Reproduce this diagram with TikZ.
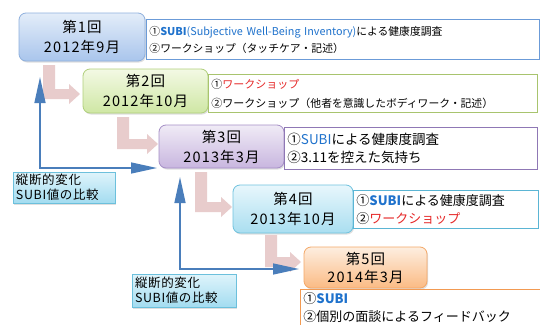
\documentclass[tikz,border=0pt]{standalone}
\usepackage{fontspec}
\setmainfont{Noto Sans CJK JP}
\usetikzlibrary{arrows.meta,shadows}
\definecolor{b1t}{HTML}{E3EDF9}\definecolor{b1b}{HTML}{A9C5EC}\definecolor{b1d}{HTML}{8FB0DD}\definecolor{d1c}{HTML}{6B9BD8}
\definecolor{b2t}{HTML}{F3F9E4}\definecolor{b2b}{HTML}{CFE7A4}\definecolor{b2d}{HTML}{B0CF7C}\definecolor{d2c}{HTML}{A8C46E}
\definecolor{b3t}{HTML}{F0EBF6}\definecolor{b3b}{HTML}{C8B6DF}\definecolor{b3d}{HTML}{A58FC6}\definecolor{d3c}{HTML}{8F78B5}
\definecolor{b4t}{HTML}{E8F7FC}\definecolor{b4b}{HTML}{A9DEF0}\definecolor{b4d}{HTML}{6FC2DE}\definecolor{d4c}{HTML}{5BB5D4}
\definecolor{b5t}{HTML}{FDEEE0}\definecolor{b5b}{HTML}{FBBB84}\definecolor{b5d}{HTML}{F4A868}\definecolor{d5c}{HTML}{F29A52}
\definecolor{labt}{HTML}{DFF4FB}\definecolor{labb}{HTML}{A3DCF0}\definecolor{labd}{HTML}{6CC0DC}
\definecolor{pinkc}{HTML}{E8CCCC}
\definecolor{arrblue}{HTML}{4A7EBB}
\definecolor{subiblue}{HTML}{1F72CC}
\definecolor{wsred}{HTML}{E62828}
\newcommand\pinkarr[4]{%
  \fill[pinkc] (#1,#2) -- (#1+12,#2) -- (#1+12,#3-5) -- (#4-11,#3-5) -- (#4-11,#3-10)
    -- (#4,#3) -- (#4-11,#3+10) -- (#4-11,#3+5) -- (#1,#3+5) -- cycle;}
\newcommand\subi[1]{\textcolor{subiblue}{#1}}
\newcommand\wsr[1]{\textcolor{wsred}{#1}}
\tikzset{
  base/.style={rounded corners=7pt, line width=0.8pt, align=center, inner sep=0pt,
    font=\fontsize{14.5}{20}\selectfont\addfontfeatures{LetterSpace=8},
    drop shadow={opacity=0.25, shadow xshift=1pt, shadow yshift=-1.5pt}},
  bx1/.style={base, draw=b1d, top color=b1t, bottom color=b1b},
  bx2/.style={base, draw=b2d, top color=b2t, bottom color=b2b},
  bx3/.style={base, draw=b3d, top color=b3t, bottom color=b3b},
  bx4/.style={base, draw=b4d, top color=b4t, bottom color=b4b},
  bx5/.style={base, draw=b5d, top color=b5t, bottom color=b5b, font=\fontsize{14.5}{18}\selectfont\addfontfeatures{LetterSpace=8}},
  desc/.style={draw=#1, line width=0.9pt, fill=white, anchor=north west, align=left,
    inner xsep=3pt, inner ysep=0pt},
  lab/.style={draw=labd, line width=0.8pt, top color=labt, bottom color=labb, align=left,
    inner xsep=3pt, inner ysep=0pt, font=\fontsize{12.5}{15}\selectfont\addfontfeatures{LetterSpace=5},
    drop shadow={opacity=0.25, shadow xshift=1pt, shadow yshift=-1.5pt}},
  barrow/.style={draw=arrblue, line width=1.4pt, -{Triangle[length=26pt,width=11pt]}}
}
\begin{document}
\begin{tikzpicture}[x=1pt,y=-1pt]
\useasboundingbox (0,0) rectangle (540,324);
\fill[white] (0,0) rectangle (540,324);

% pink L arrows
\pinkarr{43}{65}{94}{80}
\pinkarr{117}{117}{144}{158}
\pinkarr{195}{172}{207}{232}
\pinkarr{265}{235}{262}{301}

% round boxes
\node[bx1, minimum width=126pt, minimum height=48pt] (box1) at (82,37) {第1回\\2012年9月};
\node[bx2, minimum width=125pt, minimum height=44pt] (box2) at (145.5,91) {第2回\\2012年10月};
\node[bx3, minimum width=125pt, minimum height=43pt] (box3) at (221.5,146.5) {第3回\\2013年3月};
\node[bx4, minimum width=120pt, minimum height=48pt] (box4) at (293,209) {第4回\\2013年10月};
\node[bx5, minimum width=123pt, minimum height=41pt] (box5) at (365.5,267.5) {第5回\\2014年3月};

% description boxes
\node[desc=d1c, text width=387pt, minimum height=40pt, font=\fontsize{10.8}{17}\selectfont] (d1) at (146,19)
  {①\subi{\textbf{SUBI}(Subjective Well-Being Inventory)}による健康度調査\\②ワークショップ（タッチケア・記述）};
\node[desc=d2c, text width=323pt, minimum height=38pt, font=\fontsize{11}{19}\selectfont] (d2) at (208,74)
  {①\wsr{ワークショップ}\\②ワークショップ（{\fontsize{10.8}{19}\selectfont 他者を意識したボディワーク・記述}）};
\node[desc=d3c, text width=247pt, minimum height=42pt, font=\fontsize{13.5}{18}\selectfont] (d3) at (284,127)
  {①\subi{SUBI}による健康度調査\\②3.11を控えた気持ち};
\node[desc=d4c, text width=179pt, minimum height=38pt, font=\fontsize{13}{18}\selectfont] (d4) at (353,190)
  {①\subi{\textbf{SUBI}}による健康度調査\\②\wsr{ワークショップ}};
\node[desc=d5c, text width=240pt, minimum height=40pt, text depth=22pt, font=\fontsize{13}{18}\selectfont] (d5) at (300,289)
  {①\subi{\textbf{SUBI}}\\②個別の面談によるフィードバック};

% labels
\node[lab, minimum width=102pt, minimum height=31pt, text width=96pt] (lab1) at (64,187.5) {縦断的変化\\SUBI値の比較};
\node[lab, minimum width=104pt, minimum height=33pt, text width=98pt] (lab2) at (184,290.5) {縦断的変化\\SUBI値の比較};

% blue arrows
\coordinate (c1up) at (40,77);
\coordinate (c1end) at (157,168);
\draw[barrow, {Triangle[length=26pt,width=11pt]}-{Triangle[length=26pt,width=11pt]}] (c1up) |- (c1end);
\coordinate (c2up) at (180,177);
\coordinate (c2end) at (299,269);
\draw[barrow, {Triangle[length=26pt,width=11pt]}-{Triangle[length=26pt,width=11pt]}] (c2up) |- (c2end);
\end{tikzpicture}
\end{document}
